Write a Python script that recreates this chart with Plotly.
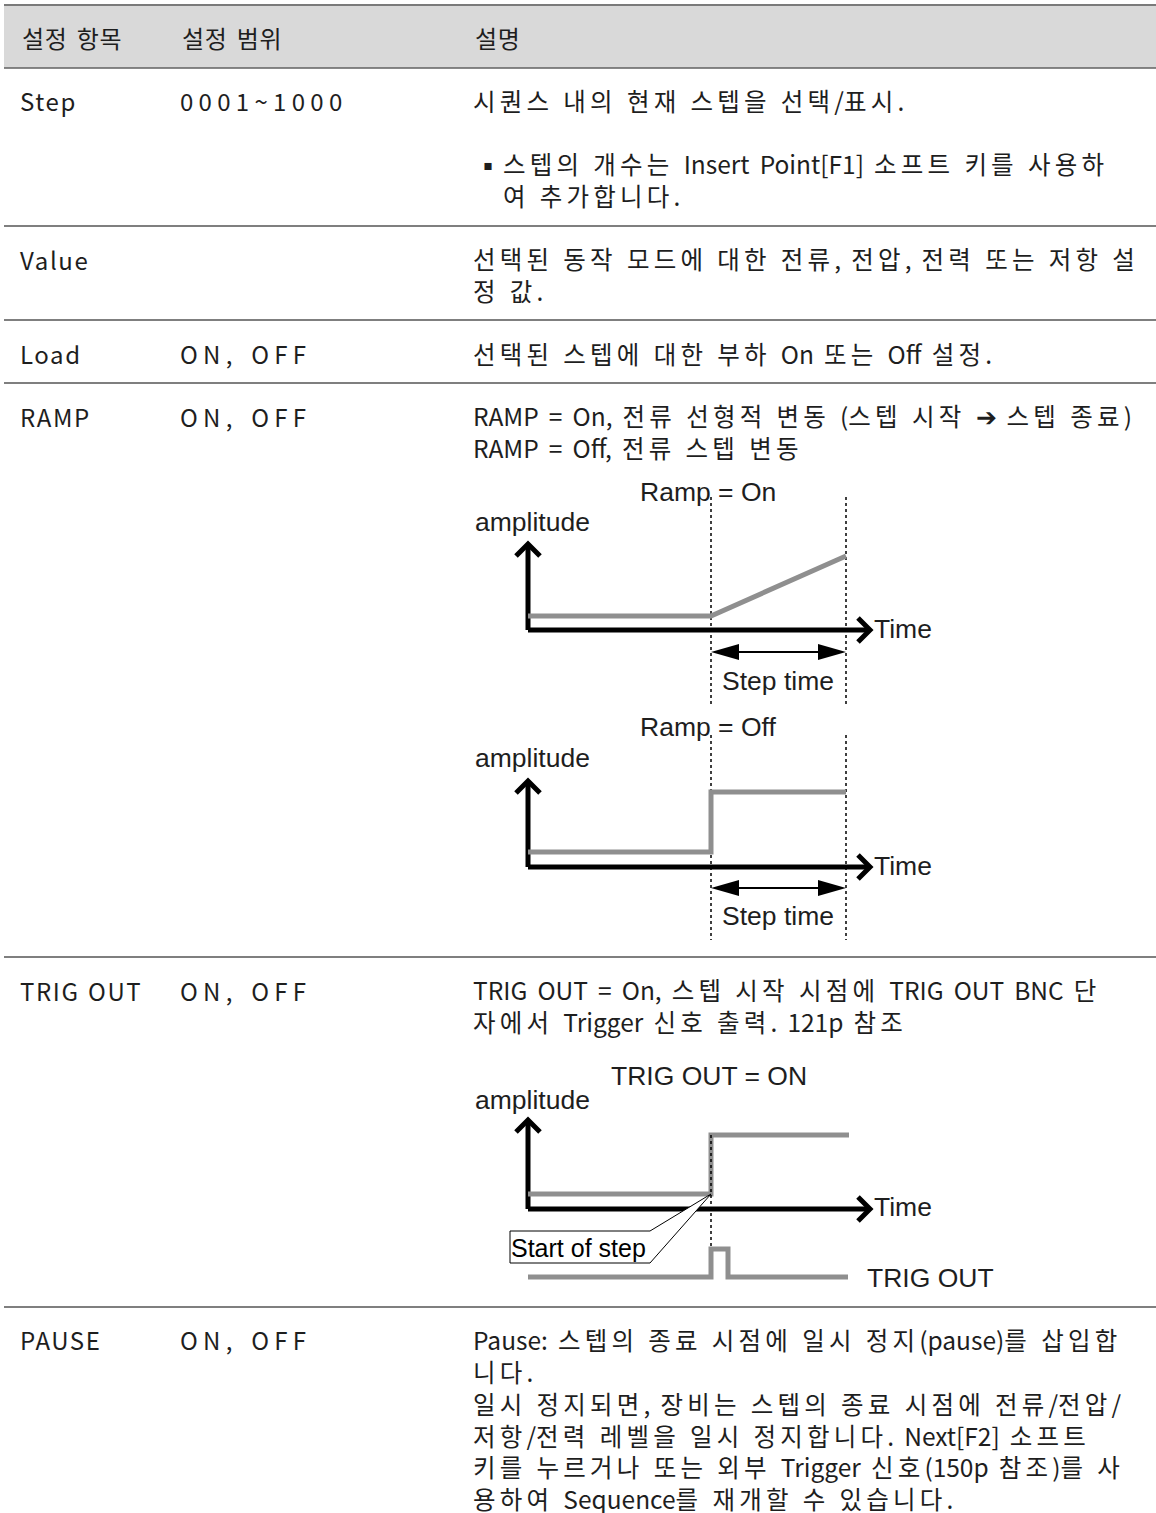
import re
import plotly.graph_objects as go

W, H = 1156, 1513

# ---------------- table content ----------------
header_labels = ["설정 항목", "설정 범위", "설명"]
row_labels = ["Step", "Value", "Load", "RAMP", "TRIG OUT", "PAUSE"]
row_ranges = ["0001~1000", "", "ON, OFF", "ON, OFF", "ON, OFF", "ON, OFF"]

step_desc = ["시퀀스 내의 현재 스텝을 선택/표시."]
step_bullet = ["스텝의 개수는 Insert Point[F1] 소프트 키를 사용하", "여 추가합니다."]
value_desc = ["선택된 동작 모드에 대한 전류, 전압, 전력 또는 저항 설", "정 값."]
load_desc = ["선택된 스텝에 대한 부하 On 또는 Off 설정."]
ramp_desc = ["RAMP = On, 전류 선형적 변동 (스텝 시작 ➔ 스텝 종료)", "RAMP = Off, 전류 스텝 변동"]
trig_desc = ["TRIG OUT = On, 스텝 시작 시점에 TRIG OUT BNC 단", "자에서 Trigger 신호 출력. 121p 참조"]
pause_desc = ["Pause: 스텝의 종료 시점에 일시 정지(pause)를 삽입합", "니다.",
              "일시 정지되면, 장비는 스텝의 종료 시점에 전류/전압/",
              "저항/전력 레벨을 일시 정지합니다. Next[F2] 소프트",
              "키를 누르거나 또는 외부 Trigger 신호(150p 참조)를 사",
              "용하여 Sequence를 재개할 수 있습니다."]

# ---------------- diagram content (time / amplitude units) ----------------
diagram_titles = ["Ramp = On", "Ramp = Off", "TRIG OUT = ON"]
t_start, t_end = 183, 318
ramp_on_t = [0, 183, 318]
ramp_on_a = [14, 14, 74]
ramp_off_t = [0, 183, 183, 318]
ramp_off_a = [15, 15, 75, 75]
trig_wave_t = [0, 183, 183, 321]
trig_wave_a = [15, 15, 74, 74]
pulse_t = [0, 183, 183, 200, 200, 320]
pulse_a = [-68, -68, -40, -40, -68, -68]

# ---------------- layout constants ----------------
KFONT = "Noto Sans CJK KR"
AFONT = "Liberation Sans"
TXT = "#1e1e1e"
GRAY = "#8f8f8f"
col_x = [18, 178, 471]
header_y = 37
rule_y = [68, 226, 320, 383, 957, 1307]
label_y = [100, 259, 353, 416, 990, 1339]
KSIZE = 24.5
LS = KSIZE * 1.3          # plotly multi-line spacing
ASIZE = 26.5

HANGUL_RUN = re.compile(r"([\uac00-\ud7a3]+| +)")


def spaced(s, lh=4.2, lsp=4.6, lo=0.0):
    """Apply letter spacing per run of hangul / spaces / other characters."""
    out = []
    for seg in HANGUL_RUN.split(s):
        if not seg:
            continue
        if re.fullmatch(r"[\uac00-\ud7a3]+", seg):
            ls = lh
        elif seg.strip() == "":
            ls = lsp
        else:
            ls = lo
        out.append(f"<span style='letter-spacing:{ls}px'>{seg}</span>")
    return "".join(out)


fig = go.Figure()
annotations = []
shapes = []


def txt(x, y, s, size=KSIZE, font=KFONT, xanchor="left", xref="x", yref="y", color=TXT):
    annotations.append(dict(x=x, y=y, text=s, showarrow=False, xref=xref, yref=yref,
                            xanchor=xanchor, yanchor="middle", align="left",
                            font=dict(family=font, size=size, color=color)))


def block(x, y_first, lines):
    """Multi-line paragraph; y_first is the centre of its first line."""
    yc = y_first + (len(lines) - 1) * LS / 2
    txt(x, yc, "<br>".join(spaced(s) for s in lines))


# header band and rules
shapes.append(dict(type="rect", xref="x", yref="y", x0=4, x1=W, y0=5, y1=68,
                   fillcolor="#d9d9d9", line=dict(width=0), layer="below"))
shapes.append(dict(type="line", xref="x", yref="y", x0=4, x1=W, y0=5, y1=5,
                   line=dict(color="#7a7a7a", width=2)))
for i, ry in enumerate(rule_y):
    shapes.append(dict(type="line", xref="x", yref="y", x0=4, x1=W, y0=ry, y1=ry,
                       line=dict(color="#555555" if i else "#606060", width=1.6)))

for cx, s in zip(col_x, header_labels):
    txt(cx + 2, header_y, spaced(s, lh=0.6, lsp=4.0), size=24)

for ly, lab, rng in zip(label_y, row_labels, row_ranges):
    txt(col_x[0], ly, spaced(lab, lo=1.6, lsp=3.0), size=24)
    if rng:
        txt(col_x[1], ly, spaced(rng, lo=5.3, lsp=8.0), size=24)

# descriptions
txt(col_x[2], label_y[0], spaced(step_desc[0]))
txt(473, 164, "▪", size=26)
block(501, 164, step_bullet)
block(col_x[2], label_y[1], value_desc)
txt(col_x[2], label_y[2], spaced(load_desc[0]))
block(col_x[2], label_y[3], ramp_desc)
block(col_x[2], label_y[4], trig_desc)
block(col_x[2], label_y[5], pause_desc)

# ---------------- diagrams ----------------
# (origin x, origin y, top, bottom) in page pixels
diag_boxes = [(528, 630, 470, 712), (528, 867, 712, 950), (528, 1209, 1050, 1300)]
layout_axes = {}
for i, (ox, oy, top, bot) in enumerate(diag_boxes):
    n = i + 2
    layout_axes[f"xaxis{n}"] = dict(domain=[460 / W, 1010 / W], range=[460 - ox, 1010 - ox],
                                     visible=False, fixedrange=True, anchor=f"y{n}")
    layout_axes[f"yaxis{n}"] = dict(domain=[1 - bot / H, 1 - top / H], range=[oy - bot, oy - top],
                                     visible=False, fixedrange=True, anchor=f"x{n}")


def line(xs, ys, n, color="black", width=5, dash=None):
    fig.add_trace(go.Scatter(x=xs, y=ys, mode="lines", xaxis=f"x{n}", yaxis=f"y{n}",
                             line=dict(color=color, width=width, dash=dash),
                             hoverinfo="skip", showlegend=False))


def poly(xs, ys, n, fill="black", lc="black", lw=0):
    fig.add_trace(go.Scatter(x=xs, y=ys, mode="lines", fill="toself", fillcolor=fill,
                             xaxis=f"x{n}", yaxis=f"y{n}",
                             line=dict(color=lc, width=lw),
                             hoverinfo="skip", showlegend=False))


def axes_arrows(n, ytop=86, xend=342):
    line([0, 0], [0, ytop], n)
    line([-12, 0, 12], [ytop - 12, ytop, ytop - 12], n)
    line([0, xend], [0, 0], n)
    line([xend - 12, xend, xend - 12], [12, 0, -12], n)


def step_arrow(n, y):
    line([t_start + 20, t_end - 20], [y, y], n, width=2)
    poly([t_start, t_start + 28, t_start + 28, t_start], [y, y + 8, y - 8, y], n)
    poly([t_end, t_end - 28, t_end - 28, t_end], [y, y + 8, y - 8, y], n)


# Diagram 1: Ramp = On
n = 2
line([t_start, t_start], [133, -75], n, width=1.5, dash="dot")
line([t_end, t_end], [133, -75], n, width=1.5, dash="dot")
axes_arrows(n)
line(ramp_on_t, ramp_on_a, n, color=GRAY, width=5)
step_arrow(n, -22)
txt(180, 138, diagram_titles[0], size=ASIZE, font=AFONT, xanchor="center", xref="x2", yref="y2")
txt(-55, 108, "amplitude", size=ASIZE, font=AFONT, xref="x2", yref="y2")
txt(344, 1, "Time", size=ASIZE, font=AFONT, xref="x2", yref="y2")
txt(250, -51, "Step time", size=ASIZE, font=AFONT, xanchor="center", xref="x2", yref="y2")

# Diagram 2: Ramp = Off
n = 3
line([t_start, t_start], [132, -73], n, width=1.5, dash="dot")
line([t_end, t_end], [132, -73], n, width=1.5, dash="dot")
axes_arrows(n)
line(ramp_off_t, ramp_off_a, n, color=GRAY, width=5)
step_arrow(n, -21)
txt(180, 140, diagram_titles[1], size=ASIZE, font=AFONT, xanchor="center", xref="x3", yref="y3")
txt(-55, 109, "amplitude", size=ASIZE, font=AFONT, xref="x3", yref="y3")
txt(344, 1, "Time", size=ASIZE, font=AFONT, xref="x3", yref="y3")
txt(250, -49, "Step time", size=ASIZE, font=AFONT, xanchor="center", xref="x3", yref="y3")

# Diagram 3: TRIG OUT = ON
n = 4
axes_arrows(n, ytop=89)
line(trig_wave_t, trig_wave_a, n, color=GRAY, width=5)
line([t_start, t_start], [74, -39], n, width=1.5, dash="dot")
line(pulse_t, pulse_a, n, color=GRAY, width=5)
poly([-18, 122, t_start, 122, -18, -18], [-22, -22, 15, -54, -54, -22], n,
     fill="white", lc="black", lw=1)
txt(50, -39, "Start of step", size=25, font=AFONT, xanchor="center", xref="x4", yref="y4",
    color="black")
txt(181, 133, diagram_titles[2], size=ASIZE, font=AFONT, xanchor="center", xref="x4", yref="y4")
txt(-55, 109, "amplitude", size=ASIZE, font=AFONT, xref="x4", yref="y4")
txt(344, 2, "Time", size=ASIZE, font=AFONT, xref="x4", yref="y4")
txt(337, -69, "TRIG OUT", size=ASIZE, font=AFONT, xref="x4", yref="y4")

fig.update_layout(
    width=W, height=H, margin=dict(l=0, r=0, t=0, b=0),
    paper_bgcolor="white", plot_bgcolor="rgba(0,0,0,0)",
    xaxis=dict(domain=[0, 1], range=[0, W], visible=False, fixedrange=True),
    yaxis=dict(domain=[0, 1], range=[H, 0], visible=False, fixedrange=True),
    annotations=annotations, shapes=shapes, showlegend=False,
    **layout_axes,
)
# keep the main (page) axis present
fig.add_trace(go.Scatter(x=[0], y=[0], mode="markers", marker=dict(opacity=0),
                         hoverinfo="skip", showlegend=False))

fig.write_html("out.html", config={"displayModeBar": False},
               post_script="document.body.style.margin='0';document.body.style.padding='0';")
